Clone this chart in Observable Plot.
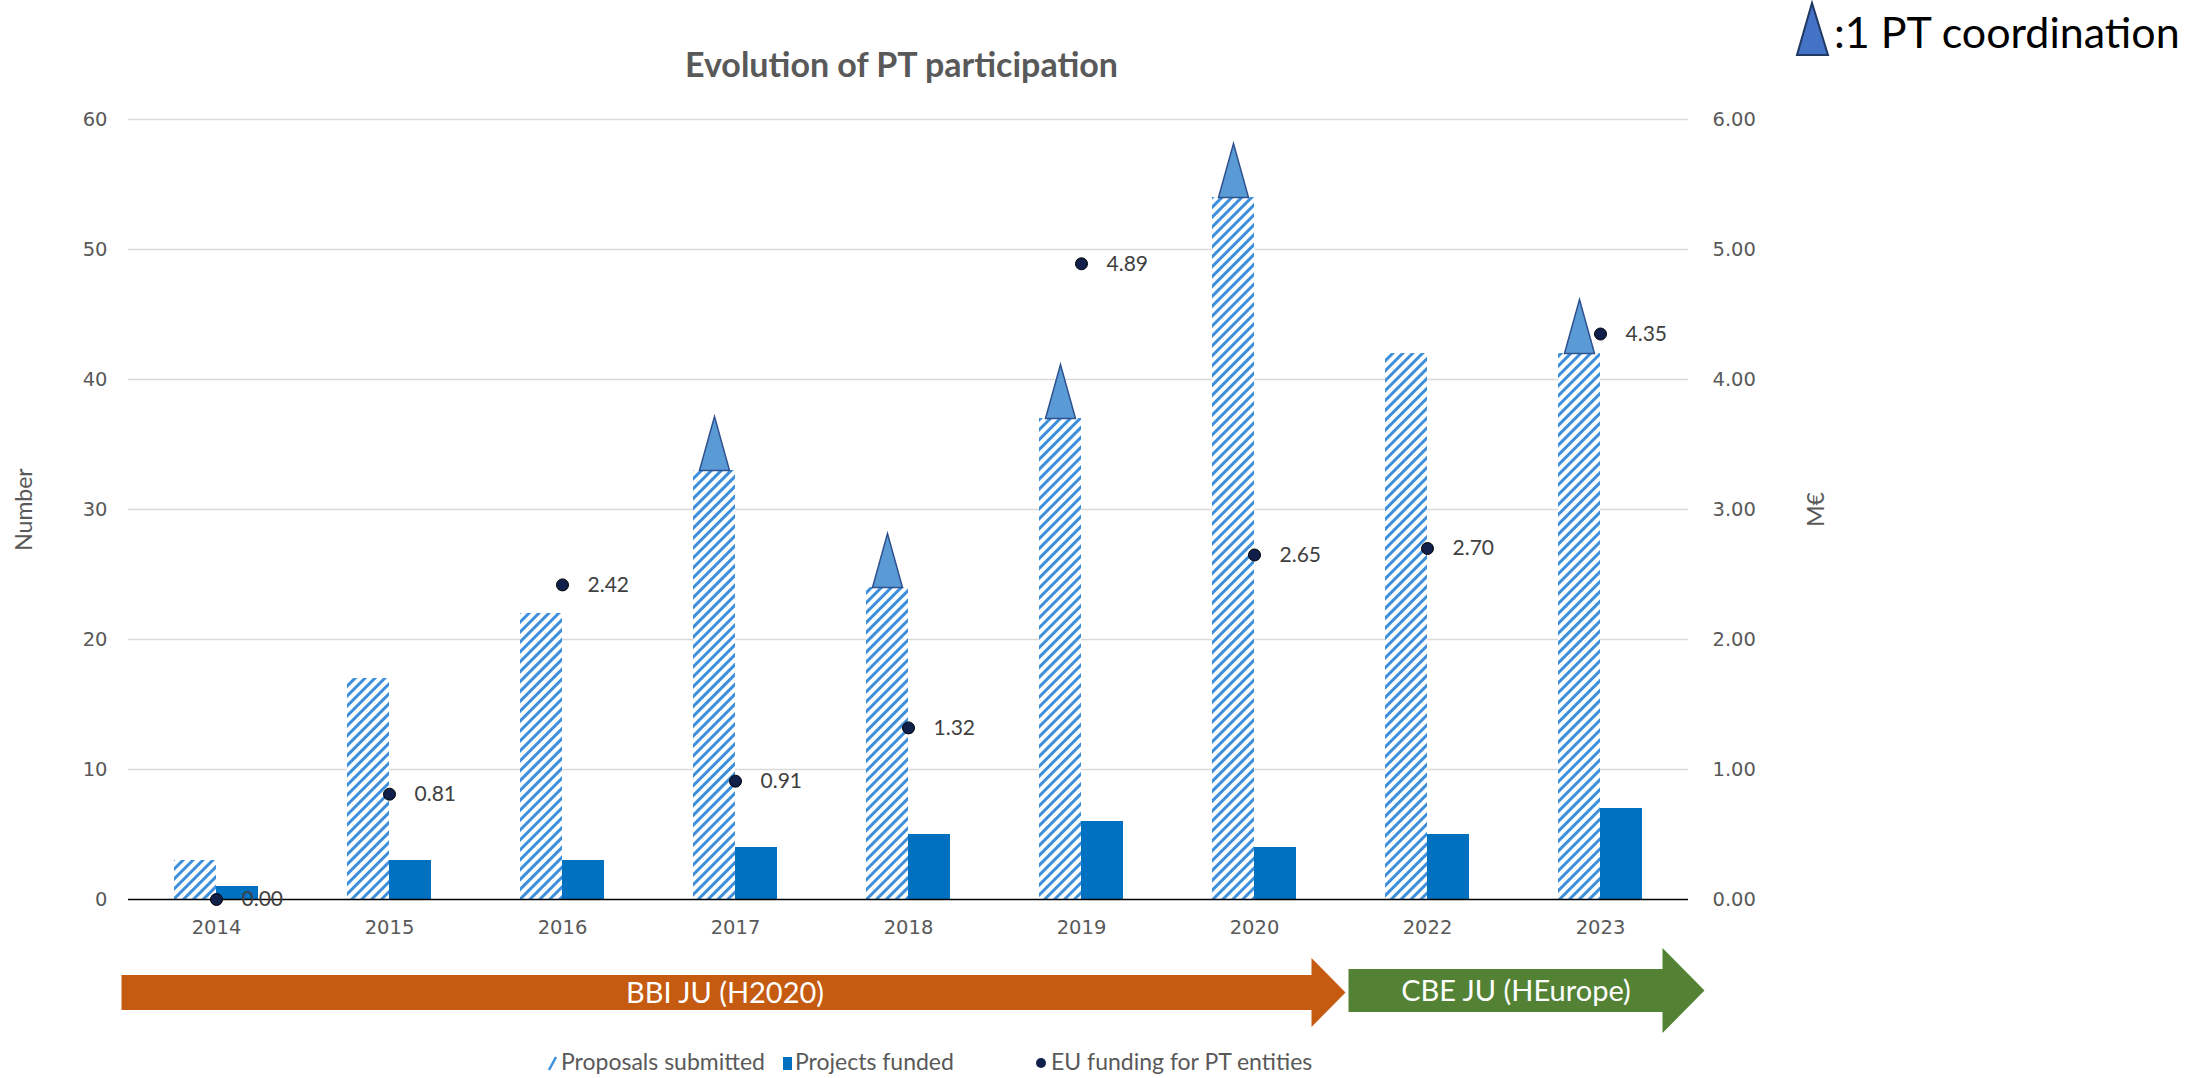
<!DOCTYPE html>
<html>
<head>
<meta charset="utf-8">
<script src="https://cdn.jsdelivr.net/npm/d3@7"></script>
<script src="https://cdn.jsdelivr.net/npm/@observablehq/plot@0.6"></script>
<style>
  html, body { margin: 0; padding: 0; background: #fff; }
  #wrap { position: relative; width: 2212px; height: 1078px; overflow: hidden; }
  #wrap > svg { position: absolute; left: 0; top: 0; }
  #overlay { pointer-events: none; }
</style>
</head>
<body>
<div id="wrap"></div>
<script>
// ---------- data ----------
const years        = ["2014", "2015", "2016", "2017", "2018", "2019", "2020", "2022", "2023"];
const proposals    = [3, 17, 22, 33, 24, 37, 54, 42, 42];
const funded       = [1, 3, 3, 4, 5, 6, 4, 5, 7];
const euFunding    = [0.00, 0.81, 2.42, 0.91, 1.32, 4.89, 2.65, 2.70, 4.35];
const coordination = [0, 0, 0, 1, 1, 1, 1, 0, 1];
const leftTicks    = [0, 10, 20, 30, 40, 50, 60];
const rightTicks   = [0, 1, 2, 3, 4, 5, 6];
const programmes   = [
  { name: "BBI JU (H2020)",   from: "2014", to: "2020" },
  { name: "CBE JU (HEurope)", from: "2022", to: "2023" }
];
const legendItems  = ["Proposals submitted", "Projects funded", "EU funding for PT entities"];
const coordLegend  = ":1 PT coordination";
const titleText    = "Evolution of PT participation";

const ratio = 10; // right axis (M€) -> left axis (Number)

const rows = years.map((year, i) => ({
  year,
  proposals: proposals[i],
  funded: funded[i],
  funding: euFunding[i],
  fundingScaled: euFunding[i] * ratio,
  coord: coordination[i]
}));

// ---------- styles ----------
const HATCH = "#3D8FDB";
const SOLID = "#0070C0";
const DOT = "#10204A";
const GREY = "#595959";
const ORANGE = "#C55A11";
const GREEN = "#548235";

const triangle = {
  draw(ctx) {
    ctx.moveTo(-15, 0);
    ctx.lineTo(0, -54);
    ctx.lineTo(15, 0);
    ctx.closePath();
  }
};

const W = 2212, H = 960;
const plot = Plot.plot({
  width: W,
  height: H,
  marginLeft: 128,
  marginRight: W - 1688,
  marginTop: 119,
  marginBottom: H - 899,
  style: { background: "transparent", fontFamily: "'DejaVu Sans', sans-serif", fontSize: "19.5px", color: GREY, overflow: "visible" },
  x: { domain: years, paddingInner: 0.758, paddingOuter: 0.379, axis: null },
  y: { domain: [0, 60], axis: null },
  marks: [
    Plot.gridY(leftTicks.filter(d => d > 0), { stroke: "#D9D9D9", strokeOpacity: 1, strokeWidth: 1.6 }),
    Plot.axisY(leftTicks, { anchor: "left", tickSize: 0, tickPadding: 21, label: null }),
    Plot.axisY(rightTicks.map(d => d * ratio), { anchor: "right", tickSize: 0, tickPadding: 24, label: null, tickFormat: d => (d / ratio).toFixed(2) }),
    Plot.axisX({ anchor: "bottom", tickSize: 0, tickPadding: 21, label: null }),
    Plot.text(["Number"], { frameAnchor: "left", dx: -104, rotate: -90, textAnchor: "middle", lineAnchor: "middle", fontFamily: "Lato, sans-serif", fontSize: 23, fill: GREY }),
    Plot.text(["M€"], { frameAnchor: "right", dx: 128, rotate: -90, textAnchor: "middle", lineAnchor: "middle", fontFamily: "Lato, sans-serif", fontSize: 23, fill: GREY }),
    Plot.text([titleText], { frameAnchor: "top", dx: -7, dy: -53, textAnchor: "middle", lineAnchor: "middle", fontFamily: "Lato, sans-serif", fontWeight: "bold", fontSize: 34, fill: GREY }),
    Plot.barY(rows, { x: "year", y: "proposals", dx: -21, fill: "url(#hatch)" }),
    Plot.barY(rows, { x: "year", y: "funded", dx: 21, fill: SOLID }),
    Plot.ruleY([0], { stroke: "#000", strokeWidth: 1.6 }),
    Plot.dot(rows.filter(d => d.coord > 0), { x: "year", y: "proposals", dx: -21, symbol: triangle, r: 5, fill: "#5B9BD5", stroke: "#2F528F", strokeWidth: 1.5 }),
    Plot.dot(rows, { x: "year", y: "fundingScaled", r: 6, fill: DOT, stroke: "#000", strokeWidth: 1 }),
    Plot.text(rows, { x: "year", y: "fundingScaled", text: d => d.funding.toFixed(2), dx: 25, textAnchor: "start", fontFamily: "Lato, sans-serif", fontSize: 21, fill: "#404040" })
  ]
});

// hatch pattern
const NS = "http://www.w3.org/2000/svg";
const defs = document.createElementNS(NS, "defs");
defs.innerHTML = `<pattern id="hatch" patternUnits="userSpaceOnUse" width="7" height="7" patternTransform="rotate(45)">
  <rect width="7" height="7" fill="#fff"/>
  <line x1="3.5" y1="-1" x2="3.5" y2="8" stroke="${HATCH}" stroke-width="3"/>
</pattern>`;
plot.insertBefore(defs, plot.firstChild);

const wrap = document.getElementById("wrap");
wrap.appendChild(plot);

// ---------- overlay: programme arrows + legends ----------
const xs = plot.scale("x");
const step = xs.step, bw = xs.bandwidth;
const center = v => xs.apply(v) + bw / 2;

const ov = d3.select(wrap).append("svg")
  .attr("id", "overlay")
  .attr("width", 2212).attr("height", 1078);

function arrow(x0, x1, headLen, bodyTop, bodyBot, headTop, headBot, color, label) {
  const hx = x1 - headLen, mid = (headTop + headBot) / 2;
  ov.append("path")
    .attr("d", `M${x0},${bodyTop}L${hx},${bodyTop}L${hx},${headTop}L${x1},${mid}L${hx},${headBot}L${hx},${bodyBot}L${x0},${bodyBot}Z`)
    .attr("fill", color);
  ov.append("text")
    .attr("x", (x0 + (hx + x1) / 2) / 2)
    .attr("y", (bodyTop + bodyBot) / 2)
    .attr("dy", "0.35em")
    .attr("text-anchor", "middle")
    .attr("font-family", "Lato, sans-serif")
    .attr("font-size", 29)
    .attr("fill", "#fff")
    .text(label);
}

const p0 = programmes[0], p1 = programmes[1];
arrow(center(p0.from) - step / 2 - 8, center(p0.to) + step / 2 + 5, 34, 975, 1010, 958, 1027, ORANGE, p0.name);
arrow(center(p1.from) - step / 2 + 8, center(p1.to) + step / 2 + 18, 42, 969, 1012, 948, 1033, GREEN, p1.name);

// bottom legend
const lg = ov.append("g").attr("font-family", "Lato, sans-serif").attr("font-size", 23).attr("fill", GREY);
const ly = 1070;
lg.append("line").attr("x1", 549).attr("y1", ly).attr("x2", 556).attr("y2", ly - 13).attr("stroke", HATCH).attr("stroke-width", 2.5);
lg.append("text").attr("x", 561).attr("y", ly).text(legendItems[0]);
lg.append("rect").attr("x", 783).attr("y", ly - 13).attr("width", 9).attr("height", 13).attr("fill", SOLID);
lg.append("text").attr("x", 795).attr("y", ly).text(legendItems[1]);
lg.append("circle").attr("cx", 1041).attr("cy", ly - 7).attr("r", 5).attr("fill", DOT);
lg.append("text").attr("x", 1051).attr("y", ly).text(legendItems[2]);

// coordination legend (top right)
ov.append("path").attr("d", "M1797,55L1812,3L1828,55Z").attr("fill", "#4472C4").attr("stroke", "#1F3864").attr("stroke-width", 2);
ov.append("text").attr("x", 1834).attr("y", 48)
  .attr("font-family", "Lato, sans-serif").attr("font-size", 43).attr("fill", "#000")
  .text(coordLegend);
</script>
</body>
</html>
